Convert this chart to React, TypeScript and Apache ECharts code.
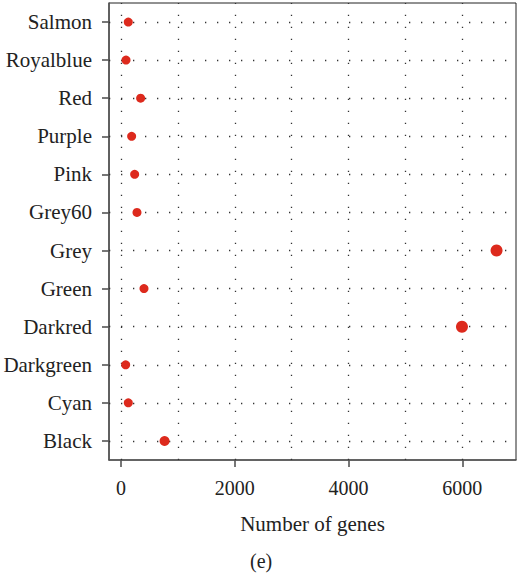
import React, { useEffect, useRef } from "react";
import * as echarts from "echarts";

const categories = [
  "Black", "Cyan", "Darkgreen", "Darkred", "Green", "Grey",
  "Grey60", "Pink", "Purple", "Red", "Royalblue", "Salmon",
];
const geneCounts = [766, 128, 82, 5994, 404, 6602, 281, 240, 187, 345, 88, 128];
const dotSizes = [10, 9, 9, 12, 9, 12, 9, 9, 9, 9, 9, 9];
const xTicks = [0, 2000, 4000, 6000];
const xGrid = [0, 1000, 2000, 3000, 4000, 5000, 6000];

const FONT = "Liberation Serif, DejaVu Serif, serif";

export default function App() {
  const ref = useRef<HTMLDivElement>(null);
  useEffect(() => {
    if (!ref.current) return;
    const chart = echarts.init(ref.current, null, { renderer: "svg" });
    const dotted = { color: "#333", width: 1.3, type: [1.3, 10.7] as any };
    chart.setOption({
      animation: false,
      backgroundColor: "#fff",
      textStyle: { fontFamily: FONT },
      grid: {
        left: 109, top: 3, width: 407, height: 457,
        show: true, borderColor: "#222", borderWidth: 1,
      },
      xAxis: {
        type: "value",
        min: -211,
        max: 6944,
        name: "Number of genes",
        nameLocation: "middle",
        nameGap: 53,
        nameTextStyle: { fontFamily: FONT, fontSize: 21, color: "#222" },
        axisLine: { show: true, onZero: false, lineStyle: { color: "#555", width: 1.6 } },
        axisTick: { show: true, customValues: xTicks, length: 7, lineStyle: { color: "#555", width: 1.6 } },
        axisLabel: {
          customValues: xTicks,
          formatter: (v: number) => String(v),
          margin: 18, fontFamily: FONT, fontSize: 20, color: "#222",
        },
        splitLine: { show: false },
      },
      yAxis: {
        type: "category",
        data: categories,
        boundaryGap: true,
        axisLine: { show: true, onZero: false, lineStyle: { color: "#555", width: 1.6 } },
        axisTick: { show: true, alignWithLabel: true, length: 7, lineStyle: { color: "#555", width: 1.6 } },
        axisLabel: { margin: 17, fontFamily: FONT, fontSize: 21, color: "#222" },
        splitLine: { show: false },
      },
      graphic: [
        {
          type: "text",
          left: 250,
          top: 551,
          style: { text: "(e)", font: `20px ${FONT}`, fill: "#222" },
        },
      ],
      series: [
        {
          type: "scatter",
          data: [],
          z: 1,
          silent: true,
          markLine: {
            silent: true,
            symbol: "none",
            label: { show: false },
            lineStyle: dotted,
            emphasis: { disabled: true },
            data: [
              ...xGrid.map((v) => ({ xAxis: v })),
              ...categories.map((c) => ({ yAxis: c })),
            ],
          },
        },
        {
          type: "scatter",
          z: 5,
          data: geneCounts.map((v, i) => ({
            value: [v, categories[i]],
            symbolSize: dotSizes[i],
          })),
          itemStyle: { color: "#dd2a1d", opacity: 1 },
        },
      ],
    });
    return () => chart.dispose();
  }, []);
  return (
    <div
      ref={ref}
      style={{ position: "fixed", left: 0, top: 0, width: 517, height: 575, background: "#fff" }}
    />
  );
}
